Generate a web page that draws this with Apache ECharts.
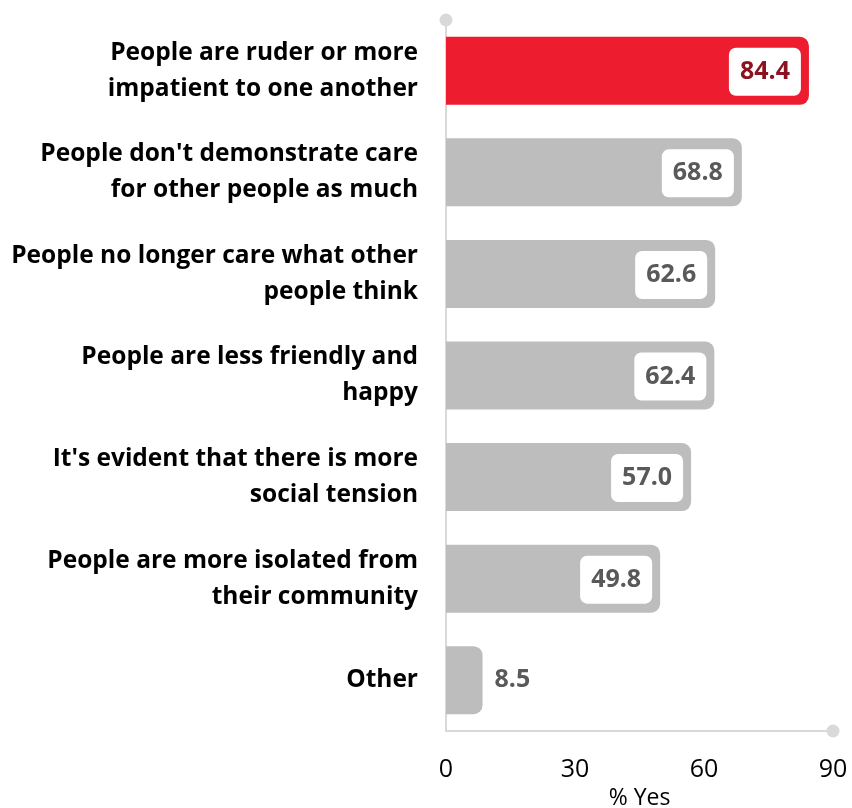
<!DOCTYPE html>
<html><head><meta charset="utf-8">
<script src="https://cdn.jsdelivr.net/npm/echarts@6/dist/echarts.min.js"></script>
<style>html,body{margin:0;padding:0;background:#fff}#c{width:852px;height:808px}</style>
</head><body><div id="c"></div>
<script>
const categories = [
  "People are ruder or more\nimpatient to one another",
  "People don't demonstrate care\nfor other people as much",
  "People no longer care what other\npeople think",
  "People are less friendly and\nhappy",
  "It's evident that there is more\nsocial tension",
  "People are more isolated from\ntheir community",
  "Other"
];
const values = [84.4, 68.8, 62.6, 62.4, 57.0, 49.8, 8.5];
const xTicks = [0, 30, 60, 90];
const highlightIndex = 0;

const cats = categories.slice().reverse();
const vals = values.slice().reverse();
const hiRev = categories.length - 1 - highlightIndex;

const data = vals.map((v, i) => {
  const isHi = i === hiRev;
  const inside = v > 20;
  return {
    value: v,
    itemStyle: { color: isHi ? '#ED1C2E' : '#BDBDBD', borderRadius: [0, 9, 9, 0] },
    label: inside ? {
      position: 'insideRight',
      offset: [-3, 1],
      color: isHi ? '#8B1220' : '#595959',
      backgroundColor: '#fff',
      borderRadius: 7,
      padding: [13, 11, 10, 11]
    } : {
      position: 'right',
      distance: 12,
      color: '#595959'
    }
  };
});

const chart = echarts.init(document.getElementById('c'));
chart.setOption({
  animation: false,
  grid: { left: 446, right: 19, top: 20, bottom: 77, containLabel: false, outerBoundsMode: 'none' },
  xAxis: {
    type: 'value', min: 0, max: 90, interval: 30,
    splitLine: { show: false },
    axisTick: { show: false },
    axisLine: { show: true, lineStyle: { color: '#D9D9D9', width: 2 }, symbol: ['none', 'circle'], symbolSize: [13, 13] },
    axisLabel: { color: '#000', fontSize: 25, fontFamily: 'Open Sans', margin: 26,
      formatter: v => xTicks.includes(v) ? String(v) : '' },
    name: '% Yes', nameLocation: 'middle', nameGap: 53,
    nameTextStyle: { color: '#000', fontSize: 23, fontFamily: 'Open Sans' }
  },
  yAxis: {
    type: 'category', data: cats,
    axisTick: { show: false },
    axisLine: { show: true, lineStyle: { color: '#D9D9D9', width: 2 }, symbol: ['none', 'circle'], symbolSize: [13, 13] },
    axisLabel: { color: '#000', fontSize: 24.5, fontWeight: 'bold', fontFamily: 'Open Sans', lineHeight: 36, margin: 28, align: 'right', padding: [6, 0, 0, 0] }
  },
  series: [{
    type: 'bar', data: data, barWidth: 68,
    label: { show: true, fontSize: 25, fontWeight: 'bold', fontFamily: 'Open Sans', formatter: p => p.value.toFixed(1) }
  }]
});
</script></body></html>
